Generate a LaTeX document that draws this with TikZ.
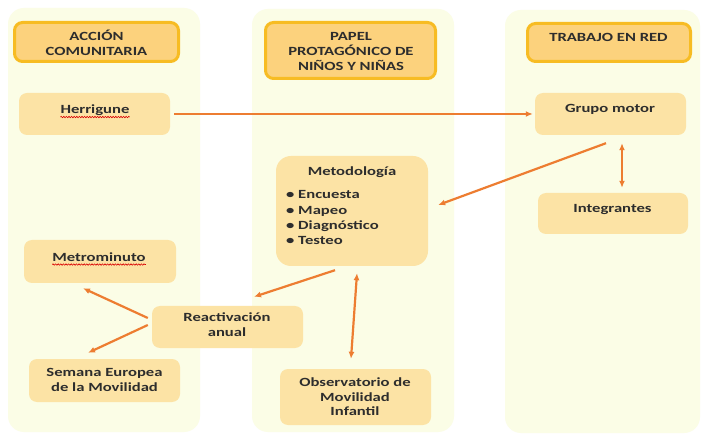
\documentclass[tikz,border=0pt]{standalone}
\usepackage{fontspec}
\setmainfont{Carlito}
\usepackage{graphicx}
\usetikzlibrary{arrows.meta,decorations.pathmorphing}

\definecolor{colbg}{RGB}{251,253,230}
\definecolor{headfill}{RGB}{252,210,125}
\definecolor{headline}{RGB}{247,188,35}
\definecolor{boxfill}{RGB}{252,227,165}
\definecolor{arrowc}{RGB}{237,125,49}
\definecolor{ink}{RGB}{45,45,45}

% wide centred / left-aligned text blocks
\newcommand\wtext[1]{\scalebox{1.33}[1]{\begin{tabular}{@{}c@{}}#1\end{tabular}}}
\newcommand\wlist[1]{\scalebox{1.33}[1]{\begin{tabular}{@{}l@{}}#1\end{tabular}}}

\begin{document}
\begin{tikzpicture}[x=1pt,y=-1pt,
  column/.style={fill=colbg, rounded corners=16pt},
  header/.style={draw=headline, line width=3pt, fill=headfill, rounded corners=8pt, inner sep=0pt},
  card/.style={fill=boxfill, rounded corners=8pt, inner sep=0pt},
  lbl/.style={inner sep=0pt, text=ink, font=\fontsize{12.5}{14.7}\selectfont\bfseries},
  link/.style={draw=arrowc, line width=2.2pt, -{Latex[length=7pt,width=6pt]}},
  both/.style={draw=arrowc, line width=2.2pt, {Latex[length=7pt,width=6pt]}-{Latex[length=7pt,width=6pt]}},
  spell/.style={draw=red!85!black, line width=0.6pt, decorate,
                decoration={snake, amplitude=0.7pt, segment length=2.6pt}}
]
\useasboundingbox (0,0) rectangle (701,435);
\fill[white] (0,0) rectangle (701,435);

% three column panels
\path[column] (8,8) rectangle (200,432);
\path[column] (252,9) rectangle (454,432);
\path[column] (505,10) rectangle (700,433);

% column headers
\node[header, minimum width=164pt, minimum height=39pt] (hA) at (96.5,42) {};
\node[lbl] (hAt) at (96.5,45) {\wtext{ACCIÓN\\COMUNITARIA}};
\node[header, minimum width=170pt, minimum height=56pt] (hB) at (350.5,50.5) {};
\node[lbl] (hBt) at (351,52.5) {\wtext{PAPEL\\PROTAGÓNICO DE\\NIÑOS Y NIÑAS}};
\node[header, minimum width=163pt, minimum height=38pt] (hC) at (609,42.5) {};
\node[lbl] (hCt) at (608.5,38.5) {\wtext{TRABAJO EN RED}};

% boxes
\node[card, minimum width=151pt, minimum height=42pt] (herr) at (94.5,114) {};
\node[lbl] (herrT) at (95,111) {\wtext{Herrigune}};
\node[card, minimum width=151pt, minimum height=42pt] (grupo) at (610.5,114) {};
\node[lbl] (grupoT) at (610,110) {\wtext{Grupo motor}};
\node[card, minimum width=150pt, minimum height=41pt] (integ) at (613,213.5) {};
\node[lbl] (integT) at (612.5,210) {\wtext{Integrantes}};
\node[card, rounded corners=15pt, minimum width=152pt, minimum height=110pt] (meto) at (352,211) {};
\node[lbl] (metoT) at (352,173) {\wtext{Metodología}};
\node[lbl, anchor=west] (metoL) at (286,219)
  {\wlist{\textbullet\ Encuesta\\[0.6pt]\textbullet\ Mapeo\\[0.6pt]\textbullet\ Diagnóstico\\[0.6pt]\textbullet\ Testeo}};
\node[card, minimum width=152pt, minimum height=43pt] (metro) at (100,261.5) {};
\node[lbl] (metroT) at (99,258.5) {\wtext{Metrominuto}};
\node[card, minimum width=151pt, minimum height=42pt] (react) at (227.5,327) {};
\node[lbl] (reactT) at (227,326.3) {\wtext{Reactivación\\anual}};
\node[card, minimum width=151pt, minimum height=43pt] (sem) at (104.5,380.5) {};
\node[lbl] (semT) at (104.5,380.8) {\wtext{Semana Europea\\de la Movilidad}};
\node[card, minimum width=151pt, minimum height=56pt] (obs) at (355.5,397) {};
\node[lbl] (obsT) at (355,398.3) {\wtext{Observatorio de\\Movilidad\\Infantil}};

% spell-check underlines
\draw[spell] ([yshift=1.5pt]herrT.south west) -- ([yshift=1.5pt]herrT.south east);
\draw[spell] ([yshift=1.5pt]metroT.south west) -- ([yshift=1.5pt]metroT.south east);

% connectors
\draw[link, shorten <=4pt, shorten >=2pt] (herr) -- (grupo);
\draw[link] ([shift={(-4.5,8)}]grupo.south) -- ([shift={(10,-6)}]meto.east);
\draw[both] ([shift={(11.5,8)}]grupo.south) -- ([shift={(9,-5)}]integ.north);
\draw[link] ([shift={(-17,4)}]meto.south) -- ([shift={(26.5,-9)}]react.north);
\draw[both] ([shift={(5,7)}]meto.south) -- ([shift={(-4.5,-10)}]obs.north);
\draw[link] ([shift={(-4,-9)}]react.west) -- ([shift={(-17,5)}]metro.south);
\draw[link] ([shift={(-4,-2)}]react.west) -- ([shift={(-16.5,-6)}]sem.north);
\end{tikzpicture}
\end{document}
